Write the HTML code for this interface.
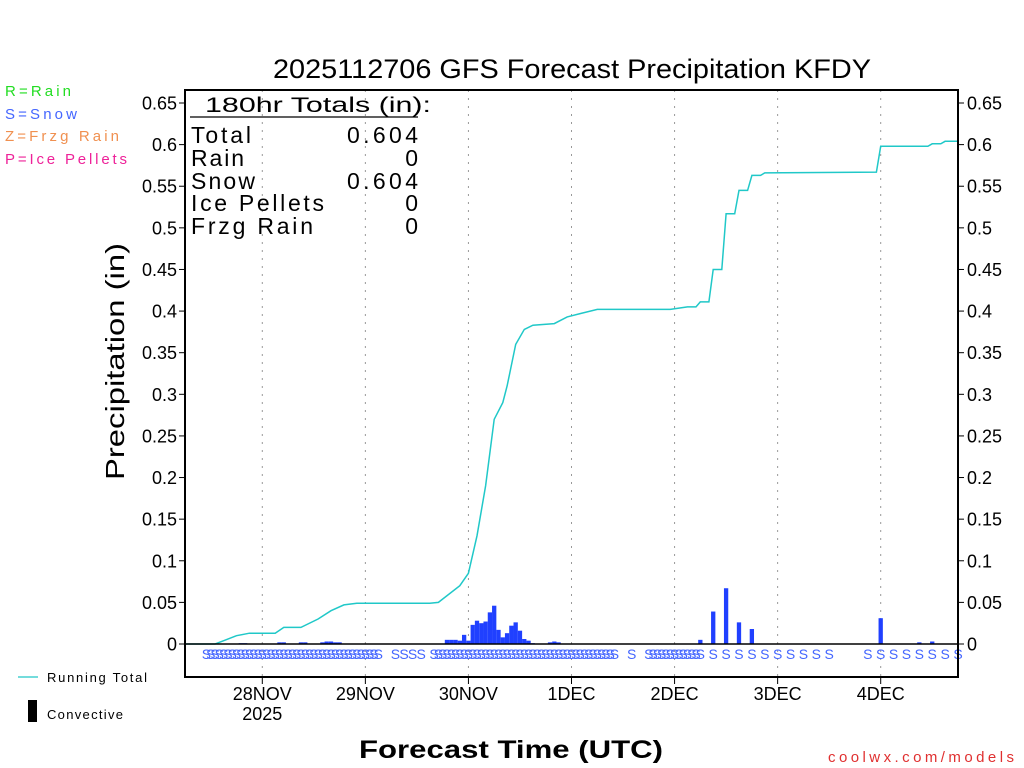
<!DOCTYPE html>
<html><head><meta charset="utf-8">
<style>
html,body{margin:0;padding:0;background:#fff;}
svg{display:block;font-family:"Liberation Sans",sans-serif;}
</style></head>
<body>
<svg id="chart" width="1024" height="768" viewBox="0 0 1024 768" xmlns="http://www.w3.org/2000/svg">
<rect width="1024" height="768" fill="#fff"/>
<text x="273" y="78" font-size="27" textLength="598" lengthAdjust="spacingAndGlyphs" fill="#000">2025112706 GFS Forecast Precipitation KFDY</text>
<g font-size="15">
<text x="5" y="96" textLength="66" fill="#22dd22">R=Rain</text>
<text x="5" y="119" textLength="72" fill="#4466ff">S=Snow</text>
<text x="5" y="141" textLength="114" fill="#f09050">Z=Frzg Rain</text>
<text x="5" y="164" textLength="122" fill="#ee2299">P=Ice Pellets</text>
</g>
<g id="grid"></g>
<g id="bars"></g>
<g id="smarks"></g>
<g id="line"></g>
<g id="axes"></g>
<g font-size="23" fill="#000">
<text x="205" y="112" font-size="21" textLength="226" lengthAdjust="spacingAndGlyphs">180hr Totals (in):</text>
<line x1="190" y1="117" x2="418" y2="117" stroke="#000" stroke-width="1.2"/>
<text x="191" y="143" textLength="60">Total</text><text x="347" y="143" textLength="71">0.604</text>
<text x="191" y="166" textLength="53">Rain</text><text x="418" y="166" text-anchor="end">0</text>
<text x="191" y="189" textLength="64">Snow</text><text x="347" y="189" textLength="71">0.604</text>
<text x="191" y="211" textLength="133">Ice Pellets</text><text x="418" y="211" text-anchor="end">0</text>
<text x="191" y="234" textLength="122">Frzg Rain</text><text x="418" y="234" text-anchor="end">0</text>
</g>
<text transform="translate(124,480) rotate(-90)" font-size="26" textLength="237" lengthAdjust="spacingAndGlyphs" fill="#000">Precipitation (in)</text>
<text x="359" y="758" font-size="25" textLength="304" lengthAdjust="spacingAndGlyphs" fill="#000" font-weight="bold">Forecast Time (UTC)</text>
<text x="828" y="762" font-size="15" textLength="186" fill="#e03030">coolwx.com/models</text>
<g font-size="13" fill="#000">
<line x1="18" y1="677" x2="38" y2="677" stroke="#20c8c8" stroke-width="1.2"/>
<text x="47" y="682" textLength="100">Running Total</text>
<rect x="28" y="700" width="9" height="22" fill="#000"/>
<text x="47" y="719" textLength="76">Convective</text>
</g>
</svg>
<script>
const yTicks=[0,0.05,0.1,0.15,0.2,0.25,0.3,0.35,0.4,0.45,0.5,0.55,0.6,0.65];
const yTickLabels=["0","0.05","0.1","0.15","0.2","0.25","0.3","0.35","0.4","0.45","0.5","0.55","0.6","0.65"];
const dayHours=[18,42,66,90,114,138,162];
const dayLabels=["28NOV","29NOV","30NOV","1DEC","2DEC","3DEC","4DEC"];
const barHours=[13,14,22,23,27,28,32,33,34,35,36,
 61,62,63,64,65,66,67,68,69,70,71,72,73,74,75,76,77,78,79,80,81,85,86,87,
 120,123,126,129,132,162,171,174];
const barValues=[0.001,0.001,0.002,0.002,0.002,0.002,0.002,0.003,0.003,0.002,0.002,
 0.005,0.005,0.005,0.004,0.011,0.004,0.023,0.028,0.025,0.027,0.038,0.046,0.017,0.008,0.013,0.022,0.026,0.016,0.006,0.004,0.001,0.002,0.003,0.002,
 0.005,0.039,0.067,0.026,0.018,0.031,0.002,0.003];
const totalHours=[0,7,9,12,15,21,23,27,31,34,37,40,57,59,64,66,68,70,72,74,75,77,79,81,86,89,92,96,113,117,119,120,122,123,125,126,128,129,131,132,134,135,161,162,173,174,176,177,180];
const totalValues=[0,0,0.004,0.01,0.013,0.013,0.02,0.02,0.03,0.04,0.047,0.049,0.049,0.05,0.07,0.085,0.13,0.19,0.27,0.29,0.31,0.36,0.378,0.383,0.385,0.393,0.397,0.402,0.402,0.405,0.405,0.411,0.411,0.45,0.45,0.517,0.517,0.545,0.545,0.563,0.563,0.566,0.567,0.598,0.598,0.601,0.601,0.604,0.604];
const snowHours=[];
for(let h=5;h<=45;h++)snowHours.push(h);
snowHours.push(49,51,53,55);
for(let h=58;h<=100;h++)snowHours.push(h);
snowHours.push(104);
for(let h=108;h<=120;h++)snowHours.push(h);
for(let h=123;h<=150;h+=3)snowHours.push(h);
for(let h=159;h<=180;h+=3)snowHours.push(h);

const NS="http://www.w3.org/2000/svg";
const X0=185,X1=958,Y0=644,YTOP=103;
const xs=h=>X0+h*(X1-X0)/180;
const ys=v=>Y0-v*(Y0-YTOP)/0.65;
function mk(tag,attrs,parent){const e=document.createElementNS(NS,tag);for(const k in attrs)e.setAttribute(k,attrs[k]);parent.appendChild(e);return e;}
const grid=document.getElementById('grid'),axes=document.getElementById('axes');
dayHours.forEach((h,i)=>{
 const l=mk('line',{x1:xs(h),x2:xs(h),y1:90,y2:677,stroke:'#999','stroke-dasharray':'2,6','stroke-width':1},grid);
 
 
 mk('line',{x1:xs(h),x2:xs(h),y1:677,y2:684,stroke:'#000','stroke-width':1},axes);
 const t=mk('text',{x:xs(h),y:700,'font-size':18,'text-anchor':'middle',fill:'#000'},axes);
 t.textContent=dayLabels[i];
 
 
});
const yr=mk('text',{x:xs(18),y:720,'font-size':18,'text-anchor':'middle',fill:'#000'},axes);
yr.textContent='2025';


mk('line',{x1:X0,x2:X0,y1:89,y2:678,stroke:'#000','stroke-width':2},axes);
mk('line',{x1:X1,x2:X1,y1:89,y2:678,stroke:'#000','stroke-width':2},axes);
mk('line',{x1:X0,x2:X1,y1:677,y2:677,stroke:'#000','stroke-width':2},axes);
mk('line',{x1:X0,x2:X1,y1:90,y2:90,stroke:'#000','stroke-width':2},axes);
mk('line',{x1:X0,x2:X1,y1:Y0,y2:Y0,stroke:'#000','stroke-width':1.5},axes);
yTicks.forEach((v,i)=>{
 mk('line',{x1:X0-6,x2:X0,y1:ys(v),y2:ys(v),stroke:'#000'},axes);
 mk('line',{x1:X1,x2:X1+6,y1:ys(v),y2:ys(v),stroke:'#000'},axes);
 const a=mk('text',{x:X0-8,y:ys(v)+6.5,'font-size':18,'text-anchor':'end',fill:'#000'},axes);
 a.textContent=yTickLabels[i];
 
 
 const b=mk('text',{x:X1+9,y:ys(v)+6.5,'font-size':18,fill:'#000'},axes);
 b.textContent=yTickLabels[i];
 
 
});
const bars=document.getElementById('bars');
barHours.forEach((h,i)=>{
 const w=4.3;
 const r=mk('rect',{x:xs(h)-w/2,y:ys(barValues[i]),width:w,height:Y0-ys(barValues[i]),fill:'#2040ff'},bars);
 
 
});
const sm=document.getElementById('smarks');
snowHours.forEach(h=>{
 const t=mk('text',{x:xs(h),y:659,'font-size':14,'text-anchor':'middle',fill:'#4466ff'},sm);
 t.textContent='S';
 
 
});
const pts=totalHours.map((h,i)=>xs(h).toFixed(1)+','+ys(totalValues[i]).toFixed(1)).join(' ');
const pl=mk('polyline',{points:pts,fill:'none',stroke:'#20c8c8','stroke-width':1.5},document.getElementById('line'));


</script>
</body></html>
